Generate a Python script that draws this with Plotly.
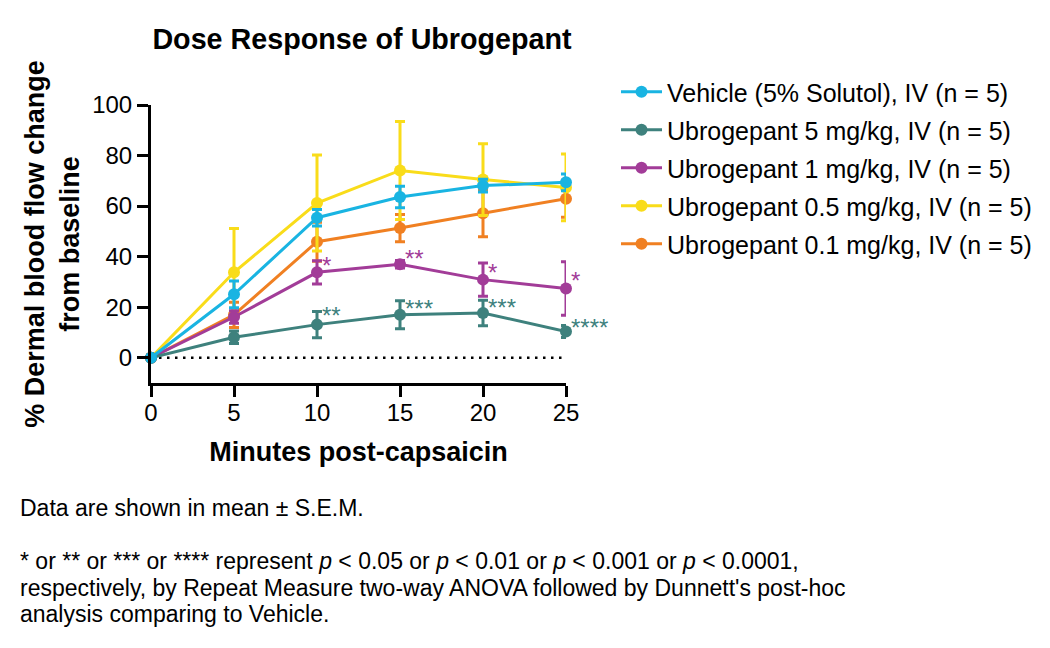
import plotly.graph_objects as go

# data (mean and S.E.M., % change from baseline)
minutes = [0, 5, 10, 15, 20, 25]

vehicle_mean = [0, 25.1, 55.4, 63.6, 68.1, 69.4]
vehicle_sem = [0, 5.3, 3.3, 4.3, 2.5, 3.3]
ubro5_mean = [0, 8.1, 13.1, 17.0, 17.7, 10.4]
ubro5_sem = [0, 2.5, 5.2, 5.5, 5.0, 2.4]
ubro1_mean = [0, 16.1, 33.8, 37.0, 30.9, 27.4]
ubro1_sem = [0, 2.5, 4.6, 1.5, 6.6, 10.6]
ubro05_mean = [0, 33.8, 61.2, 74.1, 70.5, 67.4]
ubro05_sem = [0, 17.3, 19.0, 19.4, 14.2, 13.2]
ubro01_mean = [0, 17.0, 45.9, 51.3, 57.2, 62.9]
ubro01_sem = [0, 5.0, 7.7, 5.4, 9.3, 7.3]

series_names = [
    "Vehicle (5% Solutol), IV (n = 5)",
    "Ubrogepant 5 mg/kg, IV (n = 5)",
    "Ubrogepant 1 mg/kg, IV (n = 5)",
    "Ubrogepant 0.5 mg/kg, IV (n = 5)",
    "Ubrogepant 0.1 mg/kg, IV (n = 5)",
]

# significance marks vs vehicle
star1_x = [10, 15, 20, 25]
star1_y = [37.4, 40.0, 34.5, 31.4]
star1_txt = ["*", "**", "*", "*"]
star5_x = [10, 15, 20, 25]
star5_y = [17.6, 20.2, 20.5, 12.8]
star5_txt = ["**", "***", "***", "****"]

footnotes = [
    "Data are shown in mean ± S.E.M.",
    "* or ** or *** or **** represent <i>p</i> < 0.05 or <i>p</i> < 0.01 or <i>p</i> < 0.001 or <i>p</i> < 0.0001,",
    "respectively, by Repeat Measure two-way ANOVA followed by Dunnett's post-hoc",
    "analysis comparing to Vehicle.",
]

FONT = "Arial, Liberation Sans, sans-serif"
W, H = 1050, 648
OFF = 8  # page margin of the html body
L, T = 151 - OFF, 105 - OFF
PW, PH = 415, 278
R, B = W - L - PW, H - T - PH
colors = ["#19b4e2", "#3e817d", "#a23c98", "#f9dc1a", "#f08022"]

# helpers: screen pixel -> paper / container coords
def px_x(p):
    return (p - OFF - L) / PW

def px_y(p):
    return (T + PH - (p - OFF)) / PH

def cx(p):
    return (p - OFF) / W

def cy(p):
    return 1 - (p - OFF) / H

fig = go.Figure()

means = [vehicle_mean, ubro5_mean, ubro1_mean, ubro05_mean, ubro01_mean]
sems = [vehicle_sem, ubro5_sem, ubro1_sem, ubro05_sem, ubro01_sem]

# drawn bottom to top: 0.1, 0.5, 1, 5, vehicle; legend keeps the reference order
for i in [4, 3, 2, 1, 0]:
    fig.add_trace(go.Scatter(
        x=minutes, y=means[i], name=series_names[i], legendgroup=str(i),
        legendrank=i + 1, mode="lines+markers", cliponaxis=False,
        line=dict(color=colors[i], width=3),
        marker=dict(color=colors[i], size=12),
        error_y=dict(type="data", array=sems[i], visible=True,
                     color=colors[i], thickness=3, width=5),
    ))

# dotted baseline at 0
fig.add_shape(type="line", x0=0, x1=25, y0=0, y1=0, xref="x", yref="y",
              line=dict(color="black", width=2.5, dash="2.5px,5.5px"), layer="below")

for xs, ys, ts, c in [(star1_x, star1_y, star1_txt, colors[2]),
                      (star5_x, star5_y, star5_txt, colors[1])]:
    for x, y, t in zip(xs, ys, ts):
        fig.add_annotation(x=x, y=y, text=t, showarrow=False, xanchor="left",
                           yanchor="middle", xshift=3, yshift=-2,
                           font=dict(family=FONT, size=24, color=c))

for t, py in zip(footnotes, [508, 561, 588, 614]):
    fig.add_annotation(x=px_x(18), y=px_y(py), xref="paper", yref="paper", text=t,
                       showarrow=False, xanchor="left", yanchor="middle", align="left",
                       font=dict(family=FONT, size=23, color="black"))

axis_common = dict(showline=True, linecolor="black", linewidth=3, ticks="outside",
                   ticklen=11, tickwidth=3, tickcolor="black", showgrid=False,
                   zeroline=False, tickfont=dict(family=FONT, size=24, color="black"))

fig.update_layout(
    width=W, height=H,
    margin=dict(l=L, r=R, t=T, b=B),
    paper_bgcolor="white", plot_bgcolor="white",
    font=dict(family=FONT, color="black"),
    title=dict(text="<b>Dose Response of Ubrogepant</b>", x=cx(362), xref="container",
               xanchor="center", y=cy(39), yref="container", yanchor="middle",
               font=dict(family=FONT, size=28.7, color="black")),
    xaxis=dict(range=[0, 25], tickvals=minutes, ticklabelstandoff=-5,
               title=dict(text="<b>Minutes post-capsaicin</b>", standoff=18,
                          font=dict(family=FONT, size=27)),
               **axis_common),
    yaxis=dict(range=[-10, 100], tickvals=[0, 20, 40, 60, 80, 100],
               title=dict(text="<b>% Dermal blood flow change<br>from baseline</b>", standoff=5,
                          font=dict(family=FONT, size=27)),
               **axis_common),
    legend=dict(x=cx(616), y=cy(69), xref="container", yref="container",
                xanchor="left", yanchor="top", traceorder="grouped",
                tracegroupgap=2.5, itemwidth=41,
                font=dict(family=FONT, size=25, color="black"),
                bgcolor="rgba(0,0,0,0)"),
    showlegend=True,
)

fig.write_html("out.html")
